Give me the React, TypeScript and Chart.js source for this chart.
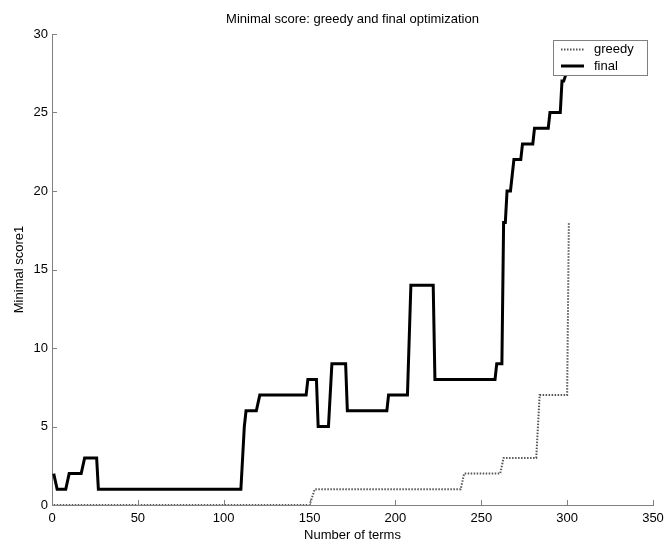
import React, { useEffect, useRef } from 'react';
import { Chart, registerables } from 'chart.js';

Chart.register(...registerables);

const TITLE = 'Minimal score: greedy and final optimization';
const X_LABEL = 'Number of terms';
const Y_LABEL = 'Minimal score1';
const SERIES_NAMES = ['greedy', 'final'];
const X_TICKS = [0, 50, 100, 150, 200, 250, 300, 350];
const Y_TICKS = [0, 5, 10, 15, 20, 25, 30];

const greedyX = [1, 150, 153, 238, 240, 261, 263, 282, 284, 300, 301];
const greedyY = [0, 0, 1, 1, 2, 2, 3, 3, 7, 7, 18];

const finalX = [
  1, 3, 8, 10, 17, 19, 26, 27, 110, 112, 113, 119, 121, 148, 149, 154, 155,
  161, 163, 171, 172, 195, 196, 207, 209, 222, 223, 258, 259, 262, 263, 264,
  265, 267, 269, 273, 274, 280, 281, 289, 290, 296, 297, 298, 301,
];
const finalY = [
  2, 1, 1, 2, 2, 3, 3, 1, 1, 5, 6, 6, 7, 7, 8, 8, 5,
  5, 9, 9, 6, 6, 7, 7, 14, 14, 8, 8, 9, 9, 18, 18,
  20, 20, 22, 22, 23, 23, 24, 24, 25, 25, 27, 27, 28,
];

const AXIS_COLOR = '#808080';
const FONT = "'Liberation Sans', Arial, Helvetica, sans-serif";
const GREEDY_COLOR = '#555555';
const GREEDY_DASH = [1.5, 1.5];
const GREEDY_WIDTH = 2;

const inwardTicks = {
  id: 'inwardTicks',
  afterDatasetsDraw(chart: any) {
    const { ctx, chartArea, scales } = chart;
    const len = 5;
    ctx.save();
    ctx.strokeStyle = AXIS_COLOR;
    ctx.lineWidth = 1;
    ctx.beginPath();
    X_TICKS.forEach((v) => {
      const px = Math.round(scales.x.getPixelForValue(v)) + 0.5;
      ctx.moveTo(px, chartArea.bottom);
      ctx.lineTo(px, chartArea.bottom - len);
    });
    Y_TICKS.forEach((v) => {
      const py = Math.round(scales.y.getPixelForValue(v)) + 0.5;
      ctx.moveTo(chartArea.left, py);
      ctx.lineTo(chartArea.left + len, py);
    });
    ctx.stroke();
    ctx.restore();
  },
};

const boxLegend = {
  id: 'boxLegend',
  afterDraw(chart: any) {
    const { ctx, chartArea } = chart;
    const w = 94;
    const h = 35;
    const x0 = chartArea.right - 6 - w;
    const y0 = chartArea.top + 6;
    ctx.save();
    ctx.fillStyle = '#ffffff';
    ctx.fillRect(x0, y0, w, h);
    ctx.strokeStyle = AXIS_COLOR;
    ctx.lineWidth = 1;
    ctx.strokeRect(Math.round(x0) + 0.5, Math.round(y0) + 0.5, w, h);
    const rows = [
      { y: y0 + 9.5, name: SERIES_NAMES[0], dash: GREEDY_DASH, color: GREEDY_COLOR, width: GREEDY_WIDTH },
      { y: y0 + 26, name: SERIES_NAMES[1], dash: [], color: '#000000', width: 3 },
    ];
    rows.forEach((r) => {
      ctx.beginPath();
      ctx.setLineDash(r.dash);
      ctx.strokeStyle = r.color;
      ctx.lineWidth = r.width;
      ctx.moveTo(x0 + 8, r.y);
      ctx.lineTo(x0 + 31, r.y);
      ctx.stroke();
      ctx.setLineDash([]);
      ctx.fillStyle = '#000000';
      ctx.font = `13px ${FONT}`;
      ctx.textBaseline = 'middle';
      ctx.textAlign = 'left';
      ctx.fillText(r.name, x0 + 41, r.y);
    });
    ctx.restore();
  },
};

export default function App() {
  const canvasRef = useRef<HTMLCanvasElement | null>(null);

  useEffect(() => {
    document.body.style.margin = '0';
    const canvas = canvasRef.current;
    if (!canvas) return;
    Chart.defaults.font.family = FONT;
    Chart.defaults.color = '#000000';

    const chart = new Chart(canvas, {
      type: 'line',
      data: {
        datasets: [
          {
            label: SERIES_NAMES[0],
            data: greedyX.map((x, i) => ({ x, y: greedyY[i] })),
            borderColor: GREEDY_COLOR,
            borderWidth: GREEDY_WIDTH,
            borderDash: GREEDY_DASH,
            pointRadius: 0,
            fill: false,
            tension: 0,
          },
          {
            label: SERIES_NAMES[1],
            data: finalX.map((x, i) => ({ x, y: finalY[i] })),
            borderColor: '#000000',
            borderWidth: 3,
            pointRadius: 0,
            fill: false,
            tension: 0,
          },
        ],
      },
      options: {
        animation: false,
        responsive: false,
        devicePixelRatio: 1,
        layout: { padding: 0 },
        plugins: {
          legend: { display: false },
          tooltip: { enabled: false },
          title: {
            display: true,
            text: TITLE,
            fullSize: false,
            color: '#000000',
            font: { size: 13, weight: 'normal', family: FONT, lineHeight: 1.2 },
            padding: { top: 12, bottom: 6.4 },
          },
        },
        scales: {
          x: {
            type: 'linear',
            min: 0,
            max: 350,
            afterBuildTicks: (s: any) => {
              s.ticks = X_TICKS.map((v) => ({ value: v }));
            },
            afterFit: (s: any) => {
              s.height = 40;
              s.paddingRight = 13;
              s.paddingLeft = 0;
            },
            grid: { display: false, drawTicks: false },
            border: { display: true, color: AXIS_COLOR, width: 1 },
            ticks: { padding: 6, color: '#000000', font: { size: 13 }, maxRotation: 0 },
            title: {
              display: true,
              text: X_LABEL,
              color: '#000000',
              font: { size: 13, lineHeight: 1.2 },
              padding: { top: 0, bottom: 2 },
            },
          },
          y: {
            type: 'linear',
            min: 0,
            max: 30,
            afterBuildTicks: (s: any) => {
              s.ticks = Y_TICKS.map((v) => ({ value: v }));
            },
            afterFit: (s: any) => {
              s.width = 52;
            },
            grid: { display: false, drawTicks: false },
            border: { display: true, color: AXIS_COLOR, width: 1 },
            ticks: { padding: 4, color: '#000000', font: { size: 13 } },
            title: {
              display: true,
              text: Y_LABEL,
              color: '#000000',
              font: { size: 13, lineHeight: 1.2 },
              padding: { top: 12, bottom: 0 },
            },
          },
        },
      },
      plugins: [inwardTicks, boxLegend],
    });
    return () => chart.destroy();
  }, []);

  return (
    <div style={{ width: 666, height: 545, background: '#ffffff' }}>
      <canvas ref={canvasRef} width={666} height={545} style={{ display: 'block' }} />
    </div>
  );
}
